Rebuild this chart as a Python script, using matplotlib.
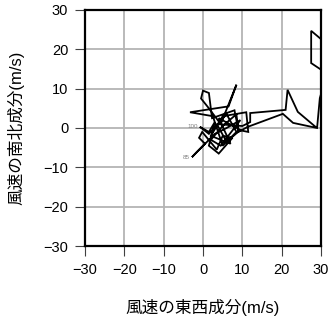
import matplotlib
matplotlib.use('Agg')
import matplotlib.pyplot as plt

plt.rcParams['font.family'] = ['Liberation Sans', 'Noto Sans CJK JP', 'DejaVu Sans']

# hodograph: east-west (u) and north-south (v) wind components, m/s
U = [32.0, 30.0, 27.5, 27.5, 30.5, 31.0, 29.7, 29.0,
     22.9, 20.3, 11.4, 9.0, 8.5, 5.0, 2.0, 4.5, 9.5, 6.0, 3.0,
     -2.8, -1.5, 0.5, -1.0, -0.2, 3.5, 5.0, 7.5, 4.0, 1.5,
     3.0, 1.5, -0.8, 1.5, 6.0, 8.5, 5.0, 2.5, -3.3, 6.5,
     8.5, 4.5, 1.5, -0.5, 0.0, 1.5, 2.3, 8.0, 9.0, 11.5,
     11.0, 5.0, 2.0, 7.0, 4.0, 9.5, 6.0, 3.5, 10.0, 12.0,
     12.0, 12.0, 21.0, 21.5, 24.1, 28.6]
V = [30.0, 22.6, 24.7, 16.5, 14.5, 12.0, 7.6, 0.0,
     1.3, 3.6, 0.3, -1.0, 3.5, 0.5, -3.0, -4.5, 2.0, 0.0, -1.5,
     -7.4, -6.0, -4.0, -2.5, -1.0, -5.5, -2.0, -2.5, -6.5, -4.5,
     1.5, -1.0, 0.3, -1.5, 3.5, -1.0, -4.5, 3.0, 4.0, 5.5,
     11.0, 1.0, 5.0, 7.5, 9.5, 8.9, 2.5, 4.5, -0.5, -1.0,
     4.0, 3.0, -2.0, -4.0, 2.5, -0.5, -3.5, 1.0, 0.5, 1.5,
     1.8, 3.8, 4.6, 9.7, 4.1, 0.3]
LABELS = [(19, '85'), (31, '100')]
TICKS = [-30, -20, -10, 0, 10, 20, 30]

fig = plt.figure(figsize=(3.31, 3.18), dpi=100)
ax = fig.add_axes([0.2568, 0.2264, 0.713, 0.7422])

ax.plot(U, V, color='black', lw=1.3, solid_joinstyle='miter', zorder=3)
for i, txt in LABELS:
    ax.text(U[i] - 0.6, V[i], txt, fontsize=4.5, color='#808080',
            ha='right', va='center', zorder=4)

ax.set_xlim(-30, 30)
ax.set_ylim(-30, 30)
ax.set_xticks(TICKS)
ax.set_yticks(TICKS)
ax.grid(True, color='#b4b4b4', lw=1.3, zorder=1)
ax.set_axisbelow(True)
for s in ax.spines.values():
    s.set_linewidth(1.6)
    s.set_color('black')
    s.set_zorder(5)
ax.tick_params(direction='out', length=7, width=0.8, color='#404040',
               labelsize=10.5, pad=5)

ax.set_xlabel('風速の東西成分(m/s)', fontsize=12, labelpad=16)
ax.set_ylabel('風速の南北成分(m/s)', fontsize=12, labelpad=14)

fig.savefig('out.png', dpi=100)
